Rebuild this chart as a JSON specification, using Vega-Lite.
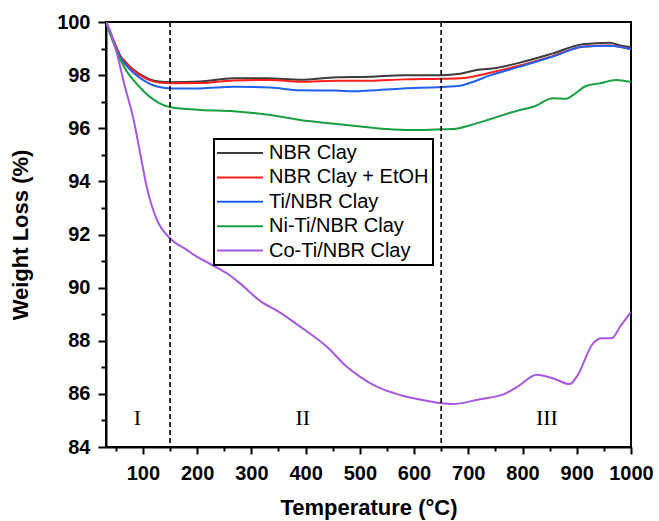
{
  "$schema": "https://vega.github.io/schema/vega-lite/v6.json",
  "width": 525,
  "height": 425,
  "autosize": {"type": "none"},
  "padding": {"left": 106, "top": 22, "right": 28, "bottom": 74},
  "background": "white",
  "config": {
    "view": {"stroke": "black", "strokeWidth": 2},
    "legend": {"strokeWidth": 2},
    "axis": {"grid": false, "domainColor": "black", "domainWidth": 2, "tickColor": "black", "tickWidth": 2, "labelFont": "Liberation Sans", "labelFontWeight": "bold", "labelFontSize": 20, "labelColor": "black", "titleFont": "Liberation Sans", "titleFontWeight": "bold", "titleFontSize": 22, "titleColor": "black", "labelOverlap": false, "labelFlush": false}
  },
  "datasets": {
    "curves": [
      {"s": "NBR Clay", "t": 32, "w": 100}, {"s": "NBR Clay", "t": 45, "w": 99.35}, {"s": "NBR Clay", "t": 58, "w": 98.75}, {"s": "NBR Clay", "t": 70, "w": 98.45}, {"s": "NBR Clay", "t": 83, "w": 98.2}, {"s": "NBR Clay", "t": 100, "w": 97.97}, {"s": "NBR Clay", "t": 113, "w": 97.84}, {"s": "NBR Clay", "t": 130, "w": 97.76}, {"s": "NBR Clay", "t": 152, "w": 97.73}, {"s": "NBR Clay", "t": 206, "w": 97.76}, {"s": "NBR Clay", "t": 267, "w": 97.88}, {"s": "NBR Clay", "t": 328, "w": 97.88}, {"s": "NBR Clay", "t": 390, "w": 97.83}, {"s": "NBR Clay", "t": 457, "w": 97.92}, {"s": "NBR Clay", "t": 519, "w": 97.94}, {"s": "NBR Clay", "t": 580, "w": 98.0}, {"s": "NBR Clay", "t": 650, "w": 98.0}, {"s": "NBR Clay", "t": 685, "w": 98.05}, {"s": "NBR Clay", "t": 715, "w": 98.19}, {"s": "NBR Clay", "t": 752, "w": 98.27}, {"s": "NBR Clay", "t": 795, "w": 98.47}, {"s": "NBR Clay", "t": 856, "w": 98.82}, {"s": "NBR Clay", "t": 911, "w": 99.16}, {"s": "NBR Clay", "t": 961, "w": 99.22}, {"s": "NBR Clay", "t": 980, "w": 99.12}, {"s": "NBR Clay", "t": 1000, "w": 99.05},
      {"s": "NBR Clay + EtOH", "t": 32, "w": 100}, {"s": "NBR Clay + EtOH", "t": 45, "w": 99.35}, {"s": "NBR Clay + EtOH", "t": 58, "w": 98.72}, {"s": "NBR Clay + EtOH", "t": 70, "w": 98.42}, {"s": "NBR Clay + EtOH", "t": 83, "w": 98.17}, {"s": "NBR Clay + EtOH", "t": 100, "w": 97.93}, {"s": "NBR Clay + EtOH", "t": 113, "w": 97.8}, {"s": "NBR Clay + EtOH", "t": 130, "w": 97.72}, {"s": "NBR Clay + EtOH", "t": 152, "w": 97.69}, {"s": "NBR Clay + EtOH", "t": 206, "w": 97.7}, {"s": "NBR Clay + EtOH", "t": 267, "w": 97.8}, {"s": "NBR Clay + EtOH", "t": 335, "w": 97.82}, {"s": "NBR Clay + EtOH", "t": 390, "w": 97.75}, {"s": "NBR Clay + EtOH", "t": 457, "w": 97.79}, {"s": "NBR Clay + EtOH", "t": 519, "w": 97.79}, {"s": "NBR Clay + EtOH", "t": 580, "w": 97.84}, {"s": "NBR Clay + EtOH", "t": 650, "w": 97.86}, {"s": "NBR Clay + EtOH", "t": 685, "w": 97.88}, {"s": "NBR Clay + EtOH", "t": 740, "w": 98.09}, {"s": "NBR Clay + EtOH", "t": 795, "w": 98.36}, {"s": "NBR Clay + EtOH", "t": 856, "w": 98.72}, {"s": "NBR Clay + EtOH", "t": 911, "w": 99.07}, {"s": "NBR Clay + EtOH", "t": 961, "w": 99.12}, {"s": "NBR Clay + EtOH", "t": 1000, "w": 98.98},
      {"s": "Ti/NBR Clay", "t": 32, "w": 100}, {"s": "Ti/NBR Clay", "t": 45, "w": 99.3}, {"s": "Ti/NBR Clay", "t": 58, "w": 98.66}, {"s": "Ti/NBR Clay", "t": 70, "w": 98.35}, {"s": "Ti/NBR Clay", "t": 83, "w": 98.08}, {"s": "Ti/NBR Clay", "t": 100, "w": 97.82}, {"s": "Ti/NBR Clay", "t": 113, "w": 97.67}, {"s": "Ti/NBR Clay", "t": 130, "w": 97.55}, {"s": "Ti/NBR Clay", "t": 152, "w": 97.5}, {"s": "Ti/NBR Clay", "t": 206, "w": 97.5}, {"s": "Ti/NBR Clay", "t": 267, "w": 97.56}, {"s": "Ti/NBR Clay", "t": 335, "w": 97.53}, {"s": "Ti/NBR Clay", "t": 390, "w": 97.43}, {"s": "Ti/NBR Clay", "t": 457, "w": 97.42}, {"s": "Ti/NBR Clay", "t": 488, "w": 97.39}, {"s": "Ti/NBR Clay", "t": 519, "w": 97.42}, {"s": "Ti/NBR Clay", "t": 580, "w": 97.5}, {"s": "Ti/NBR Clay", "t": 650, "w": 97.55}, {"s": "Ti/NBR Clay", "t": 685, "w": 97.6}, {"s": "Ti/NBR Clay", "t": 705, "w": 97.72}, {"s": "Ti/NBR Clay", "t": 740, "w": 97.99}, {"s": "Ti/NBR Clay", "t": 795, "w": 98.32}, {"s": "Ti/NBR Clay", "t": 856, "w": 98.7}, {"s": "Ti/NBR Clay", "t": 911, "w": 99.07}, {"s": "Ti/NBR Clay", "t": 961, "w": 99.11}, {"s": "Ti/NBR Clay", "t": 1000, "w": 98.97},
      {"s": "Ni-Ti/NBR Clay", "t": 32, "w": 100}, {"s": "Ni-Ti/NBR Clay", "t": 45, "w": 99.25}, {"s": "Ni-Ti/NBR Clay", "t": 58, "w": 98.6}, {"s": "Ni-Ti/NBR Clay", "t": 70, "w": 98.15}, {"s": "Ni-Ti/NBR Clay", "t": 83, "w": 97.8}, {"s": "Ni-Ti/NBR Clay", "t": 100, "w": 97.42}, {"s": "Ni-Ti/NBR Clay", "t": 113, "w": 97.18}, {"s": "Ni-Ti/NBR Clay", "t": 130, "w": 96.95}, {"s": "Ni-Ti/NBR Clay", "t": 152, "w": 96.79}, {"s": "Ni-Ti/NBR Clay", "t": 206, "w": 96.69}, {"s": "Ni-Ti/NBR Clay", "t": 267, "w": 96.64}, {"s": "Ni-Ti/NBR Clay", "t": 335, "w": 96.5}, {"s": "Ni-Ti/NBR Clay", "t": 390, "w": 96.31}, {"s": "Ni-Ti/NBR Clay", "t": 457, "w": 96.16}, {"s": "Ni-Ti/NBR Clay", "t": 519, "w": 96.03}, {"s": "Ni-Ti/NBR Clay", "t": 550, "w": 95.97}, {"s": "Ni-Ti/NBR Clay", "t": 594, "w": 95.93}, {"s": "Ni-Ti/NBR Clay", "t": 650, "w": 95.96}, {"s": "Ni-Ti/NBR Clay", "t": 673, "w": 95.97}, {"s": "Ni-Ti/NBR Clay", "t": 705, "w": 96.12}, {"s": "Ni-Ti/NBR Clay", "t": 740, "w": 96.34}, {"s": "Ni-Ti/NBR Clay", "t": 795, "w": 96.69}, {"s": "Ni-Ti/NBR Clay", "t": 820, "w": 96.81}, {"s": "Ni-Ti/NBR Clay", "t": 856, "w": 97.13}, {"s": "Ni-Ti/NBR Clay", "t": 881, "w": 97.11}, {"s": "Ni-Ti/NBR Clay", "t": 893, "w": 97.25}, {"s": "Ni-Ti/NBR Clay", "t": 917, "w": 97.59}, {"s": "Ni-Ti/NBR Clay", "t": 942, "w": 97.69}, {"s": "Ni-Ti/NBR Clay", "t": 973, "w": 97.82}, {"s": "Ni-Ti/NBR Clay", "t": 1000, "w": 97.74},
      {"s": "Co-Ti/NBR Clay", "t": 32, "w": 100}, {"s": "Co-Ti/NBR Clay", "t": 42, "w": 99.55}, {"s": "Co-Ti/NBR Clay", "t": 52, "w": 98.82}, {"s": "Co-Ti/NBR Clay", "t": 67, "w": 97.56}, {"s": "Co-Ti/NBR Clay", "t": 83, "w": 96.31}, {"s": "Co-Ti/NBR Clay", "t": 95, "w": 95.06}, {"s": "Co-Ti/NBR Clay", "t": 107, "w": 93.8}, {"s": "Co-Ti/NBR Clay", "t": 126, "w": 92.55}, {"s": "Co-Ti/NBR Clay", "t": 150, "w": 91.86}, {"s": "Co-Ti/NBR Clay", "t": 181, "w": 91.42}, {"s": "Co-Ti/NBR Clay", "t": 200, "w": 91.16}, {"s": "Co-Ti/NBR Clay", "t": 225, "w": 90.88}, {"s": "Co-Ti/NBR Clay", "t": 255, "w": 90.54}, {"s": "Co-Ti/NBR Clay", "t": 279, "w": 90.16}, {"s": "Co-Ti/NBR Clay", "t": 316, "w": 89.5}, {"s": "Co-Ti/NBR Clay", "t": 353, "w": 89.06}, {"s": "Co-Ti/NBR Clay", "t": 390, "w": 88.53}, {"s": "Co-Ti/NBR Clay", "t": 439, "w": 87.78}, {"s": "Co-Ti/NBR Clay", "t": 476, "w": 87.02}, {"s": "Co-Ti/NBR Clay", "t": 500, "w": 86.65}, {"s": "Co-Ti/NBR Clay", "t": 531, "w": 86.27}, {"s": "Co-Ti/NBR Clay", "t": 574, "w": 85.96}, {"s": "Co-Ti/NBR Clay", "t": 623, "w": 85.74}, {"s": "Co-Ti/NBR Clay", "t": 651, "w": 85.65}, {"s": "Co-Ti/NBR Clay", "t": 672, "w": 85.62}, {"s": "Co-Ti/NBR Clay", "t": 715, "w": 85.77}, {"s": "Co-Ti/NBR Clay", "t": 771, "w": 86.04}, {"s": "Co-Ti/NBR Clay", "t": 795, "w": 86.33}, {"s": "Co-Ti/NBR Clay", "t": 826, "w": 86.72}, {"s": "Co-Ti/NBR Clay", "t": 857, "w": 86.58}, {"s": "Co-Ti/NBR Clay", "t": 887, "w": 86.37}, {"s": "Co-Ti/NBR Clay", "t": 900, "w": 86.65}, {"s": "Co-Ti/NBR Clay", "t": 930, "w": 87.9}, {"s": "Co-Ti/NBR Clay", "t": 946, "w": 88.09}, {"s": "Co-Ti/NBR Clay", "t": 964, "w": 88.09}, {"s": "Co-Ti/NBR Clay", "t": 980, "w": 88.53}, {"s": "Co-Ti/NBR Clay", "t": 1000, "w": 89.09}
    ],
    "bounds": [{"t": 150}, {"t": 650}],
    "regions": [{"t": 90, "w": 85.1, "label": "I"}, {"t": 395, "w": 85.1, "label": "II"}, {"t": 845, "w": 85.1, "label": "III"}]
  },
  "layer": [
    {
      "data": {"name": "curves"},
      "mark": {"type": "line", "strokeWidth": 2, "interpolate": "monotone", "clip": true},
      "encoding": {
        "x": {"field": "t", "type": "quantitative", "scale": {"domain": [32, 1000], "nice": false, "zero": false}, "axis": {"title": "Temperature (°C)", "values": [100, 200, 300, 400, 500, 600, 700, 800, 900, 1000], "format": "d", "tickSize": 7, "labelPadding": 9, "titlePadding": 14}},
        "y": {"field": "w", "type": "quantitative", "scale": {"domain": [84, 100], "nice": false, "zero": false}, "axis": {"title": "Weight Loss (%)", "values": [84, 86, 88, 90, 92, 94, 96, 98, 100], "format": "d", "tickSize": 8, "labelPadding": 8, "titlePadding": 24}},
        "color": {"field": "s", "type": "nominal", "sort": ["NBR Clay", "NBR Clay + EtOH", "Ti/NBR Clay", "Ni-Ti/NBR Clay", "Co-Ti/NBR Clay"], "scale": {"domain": ["NBR Clay", "NBR Clay + EtOH", "Ti/NBR Clay", "Ni-Ti/NBR Clay", "Co-Ti/NBR Clay"], "range": ["#3c3c3c", "#ff1f1f", "#2060ec", "#17a043", "#a657e4"]},
          "legend": {"title": null, "orient": "none", "legendX": 108, "legendY": 117, "strokeColor": "black", "fillColor": "white", "padding": 4, "symbolType": "M-2.2,0H7.0", "symbolSize": 100, "symbolStrokeWidth": 2, "labelFont": "Liberation Sans", "labelFontSize": 20, "labelColor": "black", "labelOffset": 31, "labelLimit": 300, "rowPadding": 4.4}}
      }
    },
    {
      "data": {"name": "bounds"},
      "mark": {"type": "rule", "color": "black", "strokeWidth": 1.6, "strokeDash": [5, 3]},
      "encoding": {
        "x": {"field": "t", "type": "quantitative", "axis": {"values": [50, 150, 250, 350, 450, 550, 650, 750, 850, 950], "labels": false, "domain": false, "tickSize": 4, "title": null, "orient": "bottom"}}
      }
    },
    {
      "data": {"name": "regions"},
      "mark": {"type": "text", "font": "Liberation Serif", "fontSize": 22, "color": "black", "baseline": "middle", "align": "center"},
      "encoding": {
        "x": {"field": "t", "type": "quantitative", "axis": null},
        "y": {"field": "w", "type": "quantitative", "axis": {"values": [85, 87, 89, 91, 93, 95, 97, 99], "labels": false, "domain": false, "tickSize": 5, "title": null, "orient": "left"}},
        "text": {"field": "label"}
      }
    }
  ],
  "resolve": {"axis": {"x": "independent", "y": "independent"}}
}
